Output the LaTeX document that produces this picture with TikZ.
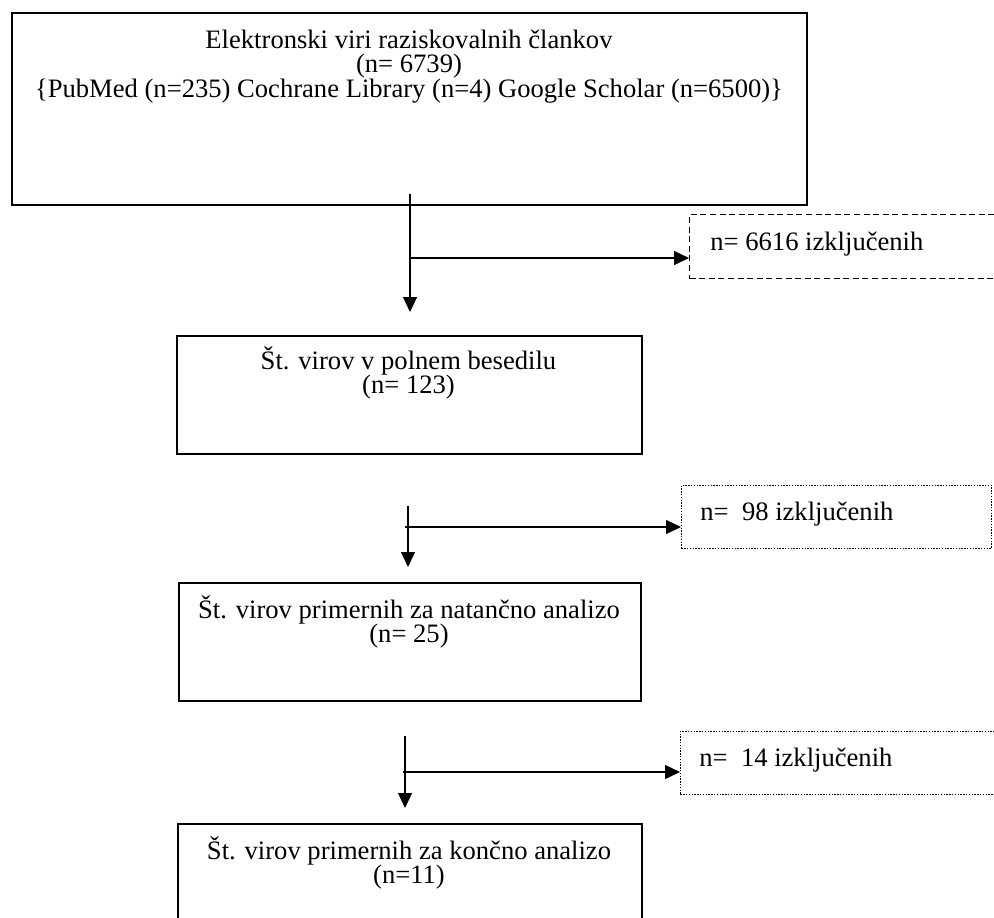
\documentclass[tikz,border=0pt]{standalone}
\usepackage{fontspec}
\setmainfont{Liberation Serif}
\usetikzlibrary{arrows.meta}
\begin{document}
\begin{tikzpicture}[x=0.5pt, y=-0.5pt, >={Triangle[length=7.5pt,width=7pt]},
  okvir/.style={draw, line width=1pt, inner sep=0pt, anchor=north west},
  crtkano/.style={draw, line width=0.6pt, dash pattern=on 3pt off 1.8pt, inner sep=0pt, anchor=north west},
  pikcasto/.style={draw, line width=0.45pt, dash pattern=on 0.7pt off 0.7pt, inner sep=0pt, anchor=north west},
  tekst/.style={font=\fontsize{13.3}{12.5}\selectfont, inner sep=0pt, anchor=base},
  levo/.style={tekst, anchor=base west},
  puscica/.style={->, line width=0.6pt}]
\useasboundingbox (0,0) rectangle (994,917);
\clip (0,0) rectangle (994,917);
% okvirji
\node[okvir, minimum width=397.5pt, minimum height=96pt] (viri) at (11,12) {};
\node[okvir, minimum width=232.5pt, minimum height=59pt] (polno) at (176,335) {};
\node[okvir, minimum width=231pt, minimum height=59pt] (natancno) at (178,582) {};
\node[okvir, minimum width=232pt, minimum height=59pt] (koncno) at (177,823) {};
\node[crtkano, minimum width=161pt, minimum height=32pt] (izk1) at (689,214) {};
\node[pikcasto, minimum width=155pt, minimum height=31.5pt] (izk2) at (681,485) {};
\node[pikcasto, minimum width=165pt, minimum height=31.5pt] (izk3) at (680,731) {};
% besedila
\node[tekst] (viri1) at (409,48) {Elektronski viri raziskovalnih člankov};
\node[tekst] (viri2) at (409,72.5) {(n= 6739)};
\node[tekst] (viri3) at (409,97) {\{PubMed (n=235) Cochrane Library (n=4) Google Scholar (n=6500)\}};
\node[tekst] (polno1) at (408.5,369) {Št. virov v polnem besedilu};
\node[tekst] (polno2) at (408.5,393.5) {(n= 123)};
\node[tekst] (natancno1) at (409,618) {Št. virov primernih za natančno analizo};
\node[tekst] (natancno2) at (409,642.5) {(n= 25)};
\node[tekst] (koncno1) at (409,859) {Št. virov primernih za končno analizo};
\node[tekst] (koncno2) at (409,883.5) {(n=11)};
\node[levo] (izk1t) at (710,250) {n= 6616 izključenih};
\node[levo] (izk2t) at (700,520) {n=\ \ 98 izključenih};
\node[levo] (izk3t) at (699,766) {n=\ \ 14 izključenih};
% puscice
\coordinate (z1) at (410,194);
\coordinate (k1) at (410,312);
\coordinate (r1) at (410,258);
\draw[puscica] (z1) -- (k1);
\draw[puscica] (r1) -- (r1 -| izk1.west);
\coordinate (z2) at (408,506);
\coordinate (k2) at (408,567);
\coordinate (r2) at (405,527);
\draw[puscica] (z2) -- (k2);
\draw[puscica] (r2) -- (r2 -| izk2.west);
\coordinate (z3) at (405,736);
\coordinate (k3) at (405,808);
\coordinate (r3) at (403,772);
\draw[puscica] (z3) -- (k3);
\draw[puscica] (r3) -- (r3 -| izk3.west);
\end{tikzpicture}
\end{document}
